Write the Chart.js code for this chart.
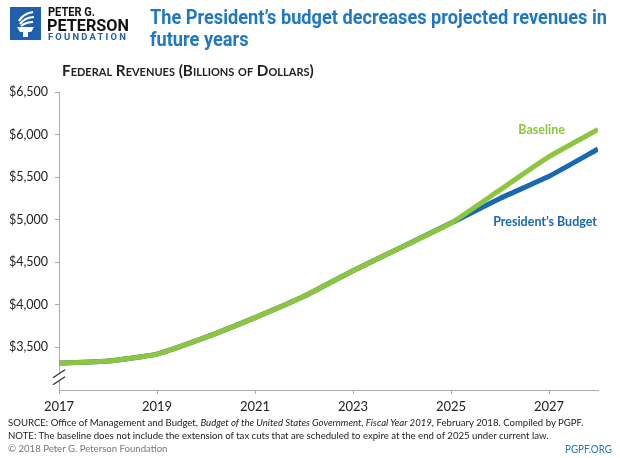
<!DOCTYPE html>
<html>
<head>
<meta charset="utf-8">
<script src="https://cdn.jsdelivr.net/npm/chart.js@4.4.1/dist/chart.umd.min.js"></script>
<style>
  body { margin: 0; background: #fff; font-family: Lato, "Open Sans", sans-serif; }
  #wrap { position: relative; width: 620px; height: 458px; overflow: hidden; }
  #chart { position: absolute; left: 0; top: 0; }
  .txt { position: absolute; white-space: nowrap; transform-origin: 0 0; }
  #logo { left: 10px; top: 7px; width: 31px; height: 33px; }
  #org1 { left: 48px; top: 4px; font: bold 13px Roboto, sans-serif; color: #111; }
  #org2 { left: 47px; top: 15px; font: bold 17px Roboto, sans-serif; color: #111; }
  #org3 { left: 48px; top: 32px; font: bold 8.5px Roboto, sans-serif; color: #1f5fae; letter-spacing: 2px; }
  #title { left: 150px; top: 6px; font: bold 20px Roboto, sans-serif; color: #1f78c1; line-height: 22px; }
  #subtitle { left: 62px; top: 61px; font: bold 15.3px Lato, sans-serif; font-variant: small-caps; color: #222; }
  #foot { left: 8px; top: 416px; font: 9.6px Lato, sans-serif; color: #222; line-height: 13px; }
  #foot .copy { color: #777; }
  #pgpf { left: 565px; top: 443px; font: 10.5px Lato, sans-serif; color: #1f78c1; }
</style>
</head>
<body>
<div id="wrap">
  <canvas id="chart" width="620" height="458"></canvas>
  <svg id="logo" class="txt" viewBox="0 0 31 33">
    <rect width="31" height="33" fill="#1f5fae"/>
    <path d="M9 14 C12 8 17 6 23 5" stroke="#fff" stroke-width="2.2" fill="none"/>
    <path d="M10 17 C14 12 19 10 24 10" stroke="#fff" stroke-width="2.2" fill="none"/>
    <path d="M11 19 C15 16 19 15 23 15" stroke="#fff" stroke-width="2" fill="none"/>
    <path d="M7 20 H24 L21 25 H10 Z" fill="#fff"/>
    <rect x="13" y="25" width="5" height="5" fill="#fff"/>
  </svg>
  <div id="org1" class="txt" data-w="47">PETER G.</div>
  <div id="org2" class="txt" data-w="82">PETERSON</div>
  <div id="org3" class="txt" data-w="80">FOUNDATION</div>
  <div id="title" class="txt" data-w="457">The President’s budget decreases projected revenues in<br>future years</div>
  <div id="subtitle" class="txt">Federal Revenues (Billions of Dollars)</div>
  <div id="foot" class="txt">SOURCE: Office of Management and Budget, <i>Budget of the United States Government, Fiscal Year 2019</i>, February 2018. Compiled by PGPF.<br>NOTE: The baseline does not include the extension of tax cuts that are scheduled to expire at the end of 2025 under current law.<br><span class="copy">© 2018 Peter G. Peterson Foundation</span></div>
  <div id="pgpf" class="txt" data-w="47">PGPF.ORG</div>
</div>
<script>
// Federal revenues, billions of dollars
const years = [2017, 2018, 2019, 2020, 2021, 2022, 2023, 2024, 2025, 2026, 2027, 2028];
const baseline = [3316, 3340, 3422, 3620, 3850, 4100, 4400, 4680, 4960, 5350, 5740, 6060];
const presidentsBudget = [3316, 3340, 3422, 3620, 3850, 4100, 4400, 4680, 4960, 5250, 5510, 5830];
const xTicks = [2017, 2019, 2021, 2023, 2025, 2027];
const yTicks = [3500, 4000, 4500, 5000, 5500, 6000, 6500];

const GREEN = '#8cc63f';
const BLUE = '#1a68b2';

// squeeze header text to the condensed widths of the original
document.querySelectorAll('[data-w]').forEach(el => {
    const w = el.getBoundingClientRect().width;
    el.style.transform = `scaleX(${el.dataset.w / w})`;
});

const toPoints = vals => vals.map((v, i) => ({ x: years[i], y: v }));

// axis break mark and the end-of-line labels
const extras = {
    id: 'extras',
    afterDraw(chart) {
        const { ctx, scales: { x, y } } = chart;
        const bx = x.left;
        const by = y.getPixelForValue(3150);
        ctx.save();
        ctx.fillStyle = '#fff';
        ctx.fillRect(bx - 2, by - 4, 4, 8);
        ctx.strokeStyle = '#333';
        ctx.lineWidth = 1.3;
        [-3.5, 3.5].forEach(d => {
            ctx.beginPath();
            ctx.moveTo(bx - 6, by + d + 4);
            ctx.lineTo(bx + 6, by + d - 4);
            ctx.stroke();
        });

        ctx.font = 'bold 12.5px Lato, sans-serif';
        ctx.textAlign = 'right';
        ctx.textBaseline = 'middle';
        const last = years.length - 1;
        const lx = x.getPixelForValue(years[last]);
        ctx.fillStyle = GREEN;
        ctx.fillText('Baseline', lx - 33, y.getPixelForValue(baseline[last]) + 1);
        ctx.fillStyle = BLUE;
        ctx.fillText('President’s Budget', lx - 1, y.getPixelForValue(presidentsBudget[last]) + 73);
        ctx.restore();
    }
};

new Chart(document.getElementById('chart'), {
    type: 'line',
    data: {
        datasets: [
            {
                label: 'Baseline',
                data: toPoints(baseline),
                borderColor: GREEN,
                borderWidth: 5,
                pointRadius: 0,
                tension: 0.15,
                order: 0
            },
            {
                label: 'President’s Budget',
                data: toPoints(presidentsBudget),
                borderColor: BLUE,
                borderWidth: 5,
                pointRadius: 0,
                tension: 0.15,
                order: 1
            }
        ]
    },
    options: {
        responsive: false,
        animation: false,
        layout: { padding: { top: 92, right: 22, left: 0, bottom: 0 } },
        plugins: {
            legend: { display: false },
            tooltip: { enabled: false }
        },
        scales: {
            x: {
                type: 'linear',
                min: 2017,
                max: 2028,
                afterBuildTicks: s => { s.ticks = xTicks.map(v => ({ value: v })); },
                afterFit: s => { s.height = 68; },
                grid: { drawOnChartArea: false, tickLength: 4, color: '#aaa' },
                border: { color: '#aaa' },
                ticks: {
                    padding: 5,
                    color: '#222',
                    font: { family: 'Lato', size: 13 },
                    callback: v => String(v)
                }
            },
            y: {
                min: 3000,
                max: 6500,
                afterBuildTicks: s => { s.ticks = yTicks.map(v => ({ value: v })); },
                afterFit: s => { s.width = 59; },
                grid: { drawOnChartArea: false, tickLength: 4, color: '#aaa' },
                border: { color: '#aaa' },
                ticks: {
                    padding: 7,
                    color: '#222',
                    font: { family: 'Lato', size: 12.5 },
                    callback: v => '$' + v.toLocaleString('en-US')
                }
            }
        }
    },
    plugins: [extras]
});
</script>
</body>
</html>
